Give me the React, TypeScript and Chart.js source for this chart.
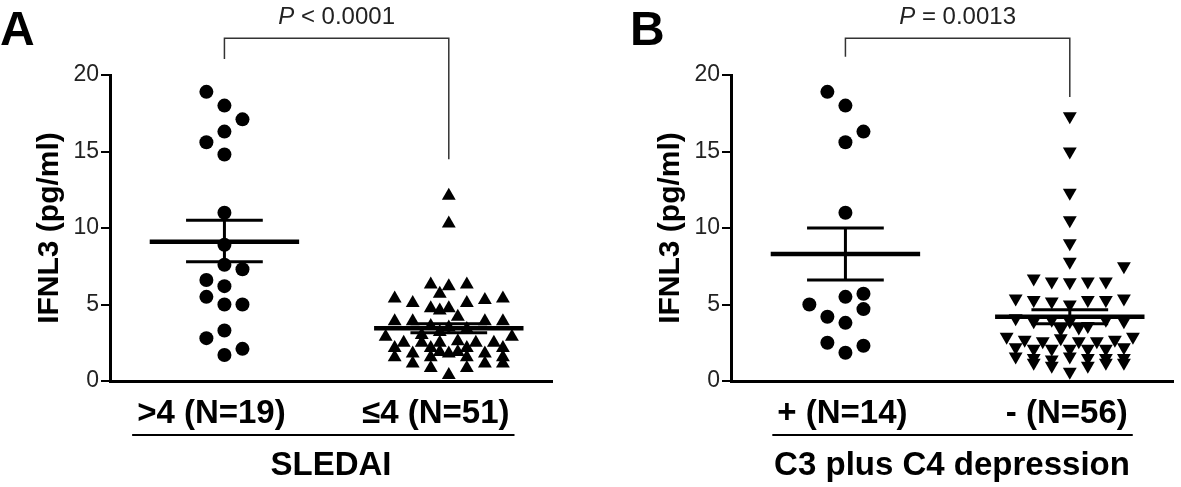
import React, { useEffect, useRef } from 'react';
import { Chart, registerables } from 'chart.js';

Chart.register(...registerables);

const FONT = "'Liberation Sans', Arial, Helvetica, sans-serif";

// ---------- shared axis ----------
const yTickValues = [0, 5, 10, 15, 20];

// ---------- Panel A : SLEDAI ----------
const aCategories = ['>4 (N=19)', '\u22644 (N=51)'];
const aAxisTitle = 'SLEDAI';
const aHighValues = [18.9, 18.0, 17.1, 16.3, 15.6, 14.8, 11.0, 8.9, 7.6, 7.3, 6.6, 6.2, 5.5, 5.0, 5.0, 3.3, 2.8, 2.1, 1.7];
const aHighCols = [-2, 0, 2, 0, -2, 0, 0, 0, 0, 2, -2, 0, -2, 0, 2, 0, -2, 2, 0];
const aLowValues = [
  12.1, 10.3, 6.3, 6.2, 6.3, 5.7, 5.4, 5.1, 5.1, 5.3, 5.4, 4.75, 4.75, 4.6, 4.2, 3.9, 3.9, 3.9, 3.9, 3.6,
  3.5, 3.4, 3.2, 2.9, 2.9, 2.5, 2.5, 2.5, 2.6, 2.5, 2.5, 2.15, 2.15, 2.15, 2.15, 1.8, 1.8, 1.8, 1.55, 1.55,
  1.55, 1.55, 1.15, 1.15, 1.15, 0.85, 0.85, 0.4, 1.9, 1.9, 3.0,
];
const aLowCols = [
  0, 0, -2, 0, 2, -1, -6, -4, 2, 4, 6, -2, 0, -1, 1, -6, -4, 4, 6, -2,
  0, 2, -1, -7, 7, -5, -3, -1, 1, 3, 5, -6, -2, 2, 6, -4, 0, 4, -6, -2,
  2, 6, -4, 4, 6, -2, 2, 0, -1, 1, -3,
];
const aMeans = [9.1, 3.45];
const aSemUpper = [10.5, 3.75];
const aSemLower = [7.8, 3.15];
const aPText = '< 0.0001';

// ---------- Panel B : C3 plus C4 depression ----------
const bCategories = ['+ (N=14)', '- (N=56)'];
const bAxisTitle = 'C3 plus C4 depression';
const bPlusValues = [18.9, 18.0, 16.3, 15.6, 11.0, 5.7, 5.5, 5.0, 4.7, 4.2, 3.8, 2.5, 2.3, 1.85];
const bPlusCols = [-2, 0, 2, 0, 0, 2, 0, -4, 2, -2, 0, -2, 2, 0];
const bMinusValues = [
  17.3, 15.0, 12.3, 10.5, 9.0, 7.8, 7.5,
  6.7, 6.5, 6.45, 6.5, 6.5,
  5.4, 5.3, 5.2, 5.3, 5.3, 5.4,
  5.0,
  4.1, 3.9, 4.0, 3.9, 3.6, 4.0, 3.9,
  2.9, 2.7, 2.6, 2.8, 2.6, 2.6, 2.7, 2.9,
  2.2, 2.1, 2.1, 2.1, 2.1, 2.1, 2.2,
  1.6, 1.5, 1.4, 1.6, 1.5, 1.5, 1.5,
  1.2, 1.0, 1.0, 1.2, 1.2,
  0.6,
  3.4, 3.5,
];
const bMinusCols = [
  0, 0, 0, 0, 0, 0, 6,
  -4, -2, 0, 2, 4,
  -6, -4, -2, 2, 4, 6,
  0,
  -6, -4, -2, 0, 2, 4, 6,
  -7, -5, -3, -1, 1, 3, 5, 7,
  -6, -4, -2, 0, 2, 4, 6,
  -6, -4, -2, 0, 2, 4, 6,
  -4, -2, 2, 4, 6,
  0,
  -1, 1,
];
const bMeans = [8.3, 4.2];
const bSemUpper = [10.0, 4.65];
const bSemLower = [6.6, 3.75];
const bPText = '= 0.0013';

// ---------- style constants ----------
const COL_STEP = 0.0402;
const MEAN_HALF = 0.333;
const CAP_HALF = 0.171;
const CAT_FONT = 33;

const extrasPlugin = {
  id: 'extras',
  afterDraw(chart: any, _args: any, o: any) {
    const { ctx } = chart;
    const xs = chart.scales.x;
    const ys = chart.scales.y;
    ctx.save();
    // panel letter
    ctx.fillStyle = '#000';
    ctx.textAlign = 'left';
    ctx.textBaseline = 'alphabetic';
    ctx.font = `bold 48px ${FONT}`;
    ctx.fillText(o.letter, o.letterX, 45);
    // bracket
    const x1 = xs.getPixelForValue(1);
    const x2 = xs.getPixelForValue(2);
    const yt = ys.getPixelForValue(o.bracketTop);
    ctx.strokeStyle = '#333';
    ctx.lineWidth = 1.5;
    ctx.beginPath();
    ctx.moveTo(x1, ys.getPixelForValue(o.bracketEnds[0]));
    ctx.lineTo(x1, yt);
    ctx.lineTo(x2, yt);
    ctx.lineTo(x2, ys.getPixelForValue(o.bracketEnds[1]));
    ctx.stroke();
    // P value
    ctx.fillStyle = '#222';
    ctx.font = `italic 24px ${FONT}`;
    const pW = ctx.measureText('P').width;
    ctx.font = `24px ${FONT}`;
    const rest = ' ' + o.pText;
    const rW = ctx.measureText(rest).width;
    const sx = (x1 + x2) / 2 - (pW + rW) / 2;
    ctx.font = `italic 24px ${FONT}`;
    ctx.fillText('P', sx, 24);
    ctx.font = `24px ${FONT}`;
    ctx.fillText(rest, sx + pW, 24);
    // underline rule below the category labels
    ctx.font = `bold ${CAT_FONT}px ${FONT}`;
    const w1 = ctx.measureText(o.categories[0]).width;
    const w2 = ctx.measureText(o.categories[1]).width;
    ctx.strokeStyle = '#000';
    ctx.lineWidth = 2;
    ctx.beginPath();
    ctx.moveTo(x1 + o.labelOffset - w1 / 2 - 5, xs.top + 54);
    ctx.lineTo(x2 + o.labelOffset + w2 / 2 + 5, xs.top + 54);
    ctx.stroke();
    ctx.restore();
  },
};

type Group = { values: number[]; cols: number[]; style: string; rotation: number; radius: number };

type PanelProps = {
  left: number;
  letter: string;
  letterX: number;
  categories: string[];
  labelOffset: number;
  axisTitle: string;
  groups: Group[];
  means: number[];
  semUpper: number[];
  semLower: number[];
  pText: string;
  bracketTop: number;
  bracketEnds: number[];
};

function Panel(p: PanelProps) {
  const ref = useRef<HTMLCanvasElement>(null);
  useEffect(() => {
    if (!ref.current) return;
    const seg = (pts: { x: number; y: number }[], w: number) => ({
      data: pts,
      showLine: true,
      borderColor: '#000',
      borderWidth: w,
      borderCapStyle: 'butt',
      pointRadius: 0,
      pointHoverRadius: 0,
      fill: false,
      clip: false,
    });
    const datasets: any[] = [];
    p.means.forEach((m, i) => {
      const c = i + 1;
      datasets.push(seg([{ x: c - MEAN_HALF, y: m }, { x: c + MEAN_HALF, y: m }], 4.5));
      datasets.push(seg([{ x: c - CAP_HALF, y: p.semUpper[i] }, { x: c + CAP_HALF, y: p.semUpper[i] }], 3));
      datasets.push(seg([{ x: c - CAP_HALF, y: p.semLower[i] }, { x: c + CAP_HALF, y: p.semLower[i] }], 3));
      datasets.push(seg([{ x: c, y: p.semLower[i] }, { x: c, y: p.semUpper[i] }], 3));
    });
    p.groups.forEach((g, i) => {
      datasets.push({
        data: g.values.map((v, j) => ({ x: i + 1 + g.cols[j] * COL_STEP, y: v })),
        showLine: false,
        pointStyle: g.style,
        pointRotation: g.rotation,
        pointRadius: g.radius,
        pointHoverRadius: g.radius,
        pointBackgroundColor: '#000',
        pointBorderColor: '#000',
        pointBorderWidth: 0,
        clip: false,
      });
    });
    const chart = new Chart(ref.current, {
      type: 'scatter',
      data: { datasets },
      plugins: [extrasPlugin as any],
      options: {
        animation: false,
        responsive: false,
        devicePixelRatio: 1,
        events: [],
        layout: { padding: { top: 75, right: 2, left: 0, bottom: 0 } },
        plugins: {
          legend: { display: false },
          tooltip: { enabled: false },
          extras: {
            letter: p.letter,
            letterX: p.letterX,
            categories: p.categories,
            labelOffset: p.labelOffset,
            pText: p.pText,
            bracketTop: p.bracketTop,
            bracketEnds: p.bracketEnds,
          },
        } as any,
        scales: {
          x: {
            type: 'linear',
            min: 0.49,
            max: 2.46,
            afterBuildTicks: (s: any) => {
              s.ticks = p.categories.map((_, i) => ({ value: i + 1 }));
            },
            afterFit: (s: any) => {
              s.height = 106;
            },
            ticks: {
              autoSkip: false,
              maxRotation: 0,
              padding: 13,
              labelOffset: p.labelOffset,
              color: '#000',
              font: { family: FONT, size: CAT_FONT, weight: 'bold' },
              callback: (v: any) => p.categories[Math.round(Number(v)) - 1] ?? '',
            },
            grid: { display: false, drawTicks: false },
            border: { display: true, color: '#000', width: 3 },
            title: {
              display: true,
              text: p.axisTitle,
              color: '#000',
              font: { family: FONT, size: CAT_FONT, weight: 'bold' },
              padding: { top: 0, bottom: 1 },
            },
          },
          y: {
            min: 0,
            max: 20,
            afterBuildTicks: (s: any) => {
              s.ticks = yTickValues.map((v) => ({ value: v }));
            },
            afterFit: (s: any) => {
              s.width = 110;
            },
            ticks: {
              padding: 2,
              color: '#222',
              font: { family: FONT, size: 23 },
            },
            grid: { drawOnChartArea: false, drawTicks: true, tickLength: 9, lineWidth: 2, color: '#000' },
            border: { display: true, color: '#000', width: 3 },
            title: {
              display: true,
              text: 'IFNL3 (pg/ml)',
              color: '#000',
              font: { family: FONT, size: 30, weight: 'bold' },
              padding: { top: 32, bottom: 0 },
            },
          },
        },
      } as any,
    });
    return () => chart.destroy();
  }, []);
  return (
    <div style={{ position: 'absolute', left: p.left, top: 0, width: 560, height: 487 }}>
      <canvas ref={ref} width={560} height={487} style={{ display: 'block' }} />
    </div>
  );
}

export default function App() {
  return (
    <div style={{ position: 'fixed', left: 0, top: 0, width: 1181, height: 487, background: '#fff', overflow: 'hidden' }}>
      <Panel
        left={0}
        letter="A"
        letterX={0}
        categories={aCategories}
        labelOffset={-13}
        axisTitle={aAxisTitle}
        groups={[
          { values: aHighValues, cols: aHighCols, style: 'circle', rotation: 0, radius: 7 },
          { values: aLowValues, cols: aLowCols, style: 'triangle', rotation: 0, radius: 8 },
        ]}
        means={aMeans}
        semUpper={aSemUpper}
        semLower={aSemLower}
        pText={aPText}
        bracketTop={22.4}
        bracketEnds={[21.05, 14.5]}
      />
      <Panel
        left={621}
        letter="B"
        letterX={9}
        categories={bCategories}
        labelOffset={-3}
        axisTitle={bAxisTitle}
        groups={[
          { values: bPlusValues, cols: bPlusCols, style: 'circle', rotation: 0, radius: 7 },
          { values: bMinusValues, cols: bMinusCols, style: 'triangle', rotation: 180, radius: 8 },
        ]}
        means={bMeans}
        semUpper={bSemUpper}
        semLower={bSemLower}
        pText={bPText}
        bracketTop={22.4}
        bracketEnds={[21.2, 18.56]}
      />
    </div>
  );
}
